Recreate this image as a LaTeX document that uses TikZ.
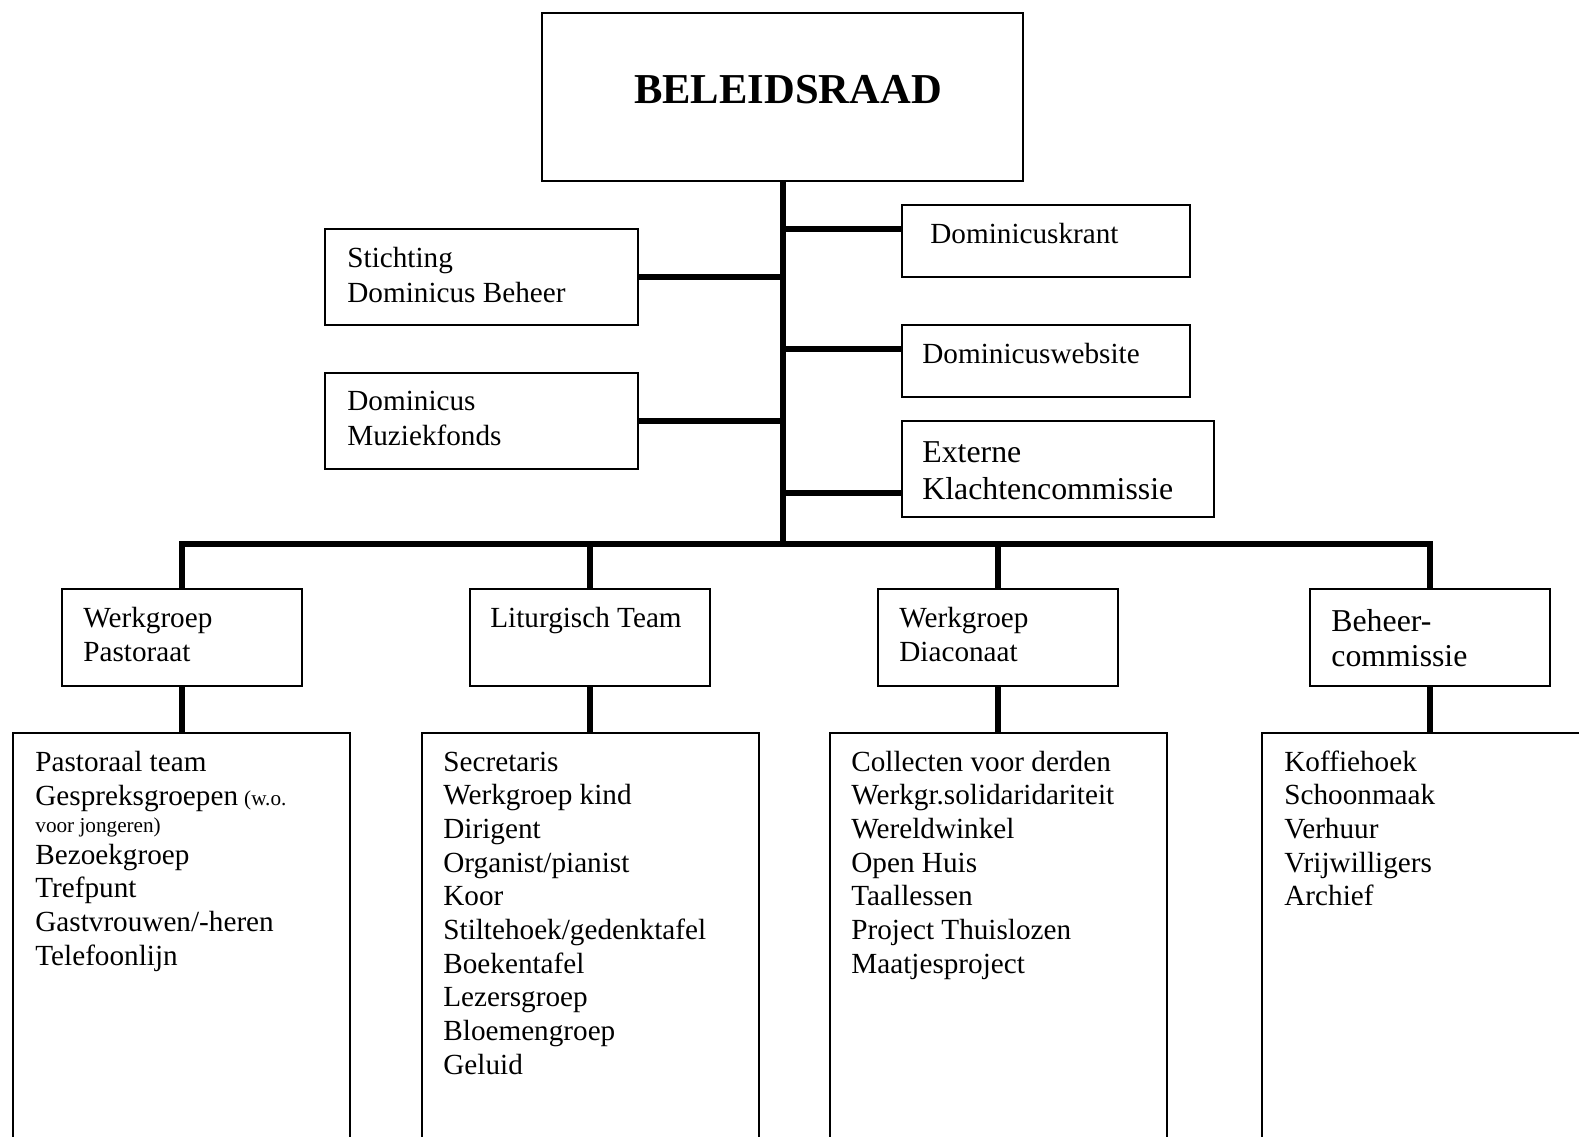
\documentclass[tikz,border=0pt]{standalone}
\usepackage{fontspec}
\setmainfont{Liberation Serif}
\usetikzlibrary{fit}
\newcommand\txtlines[4]{%
  \foreach \t [count=\i from 0] in {#4} {
    \node[txt] (#3\i) at (#1, #2+\i*33.7) {\t};
  }}
\begin{document}
\begin{tikzpicture}[x=0.5pt,y=-0.5pt,
  bx/.style={draw, line width=0.9pt, inner sep=0pt},
  conn/.style={line width=3pt},
  txt/.style={inner sep=0pt, font=\fontsize{14.6}{17}\selectfont, anchor=base west},
  bigtxt/.style={inner sep=0pt, font=\fontsize{15.9}{18}\selectfont, anchor=base west},
  smalltxt/.style={inner sep=0pt, font=\fontsize{10.6}{12}\selectfont, anchor=base west},
]
\useasboundingbox (0,0) rectangle (1579,1136);
\clip (0,0) rectangle (1579,1136);
\fill[white] (0,0) rectangle (1579,1136);

% top
\node[bx, fit={(542,13) (1023,181)}] (bel) {};
\node[inner sep=0pt, anchor=base, font=\bfseries\fontsize{21.3}{24}\selectfont] (beltxt) at (788,103) {BELEIDSRAAD};

% left side boxes
\node[bx, fit={(325,229) (638,325)}] (stich) {};
\node[txt] (stich1) at (347,267) {Stichting};
\node[txt] (stich2) at (347,302) {Dominicus Beheer};
\node[bx, fit={(325,373) (638,469)}] (muz) {};
\node[txt] (muz1) at (347,410) {Dominicus};
\node[txt] (muz2) at (347,445) {Muziekfonds};

% right side boxes
\node[bx, fit={(902,205) (1190,277)}] (krant) {};
\node[txt] (krant1) at (930,243) {Dominicuskrant};
\node[bx, fit={(902,325) (1190,397)}] (web) {};
\node[txt] (web1) at (922,363) {Dominicuswebsite};
\node[bx, fit={(902,421) (1214,517)}] (ext) {};
\node[bigtxt] (ext1) at (922,462) {Externe};
\node[bigtxt] (ext2) at (922,499) {Klachtencommissie};

% level 2
\node[bx, fit={(62,589) (302,686)}] (pa) {};
\node[txt] (pa1) at (83,627) {Werkgroep};
\node[txt] (pa2) at (83,661) {Pastoraat};
\node[bx, fit={(470,589) (710,686)}] (li) {};
\node[txt] (li1) at (490,627) {Liturgisch Team};
\node[bx, fit={(878,589) (1118,686)}] (di) {};
\node[txt] (di1) at (899,627) {Werkgroep};
\node[txt] (di2) at (899,661) {Diaconaat};
\node[bx, fit={(1310,589) (1550,686)}] (be) {};
\node[bigtxt] (be1) at (1331,631) {Beheer-};
\node[bigtxt] (be2) at (1331,666) {commissie};

% level 3
\node[bx, fit={(13,733) (350,1170)}] (pal) {};
\node[bx, fit={(422,733) (759,1170)}] (lil) {};
\node[bx, fit={(830,733) (1167,1170)}] (dil) {};
\node[bx, fit={(1262,733) (1599,1170)}] (bel3) {};

\node[txt] (pt1) at (35,771) {Pastoraal team};
\node[txt] (pt2) at (35,805) {Gespreksgroepen};
\node[smalltxt] (pt2b) at (pt2.base east) {\ (w.o.};
\node[smalltxt] (pt3) at (35,832) {voor jongeren)};
\txtlines{35}{864}{ptl}{Bezoekgroep,Trefpunt,Gastvrouwen/-heren,Telefoonlijn}

\txtlines{443}{771}{lt}{Secretaris,Werkgroep kind,Dirigent,Organist/pianist,Koor,Stiltehoek/gedenktafel,Boekentafel,Lezersgroep,Bloemengroep,Geluid}
\txtlines{851}{771}{dt}{Collecten voor derden,Werkgr.solidaridariteit,Wereldwinkel,Open Huis,Taallessen,Project Thuislozen,Maatjesproject}
\txtlines{1284}{771}{bt}{Koffiehoek,Schoonmaak,Verhuur,Vrijwilligers,Archief}

% connectors
\coordinate (barL) at (pa.north |- 0,544);
\coordinate (barR) at (be.north |- 0,544);
\draw[conn] (bel.south) -- (bel.south |- barL);
\draw[conn] (pa.north) -- (barL) -- (barR) -- (be.north);
\draw[conn] (li.north |- barL) -- (li.north);
\draw[conn] (di.north |- barL) -- (di.north);

\draw[conn] (stich.east) -- (stich.east -| bel.south);
\draw[conn] (muz.east) -- (muz.east -| bel.south);
\draw[conn] (bel.south |- 0,229) -- (krant.west |- 0,229);
\draw[conn] (bel.south |- 0,349) -- (web.west |- 0,349);
\draw[conn] (bel.south |- 0,493) -- (ext.west |- 0,493);

\draw[conn] (pa.south) -- (pa.south |- pal.north);
\draw[conn] (li.south) -- (li.south |- lil.north);
\draw[conn] (di.south) -- (di.south |- dil.north);
\draw[conn] (be.south) -- (be.south |- bel3.north);
\end{tikzpicture}
\end{document}
